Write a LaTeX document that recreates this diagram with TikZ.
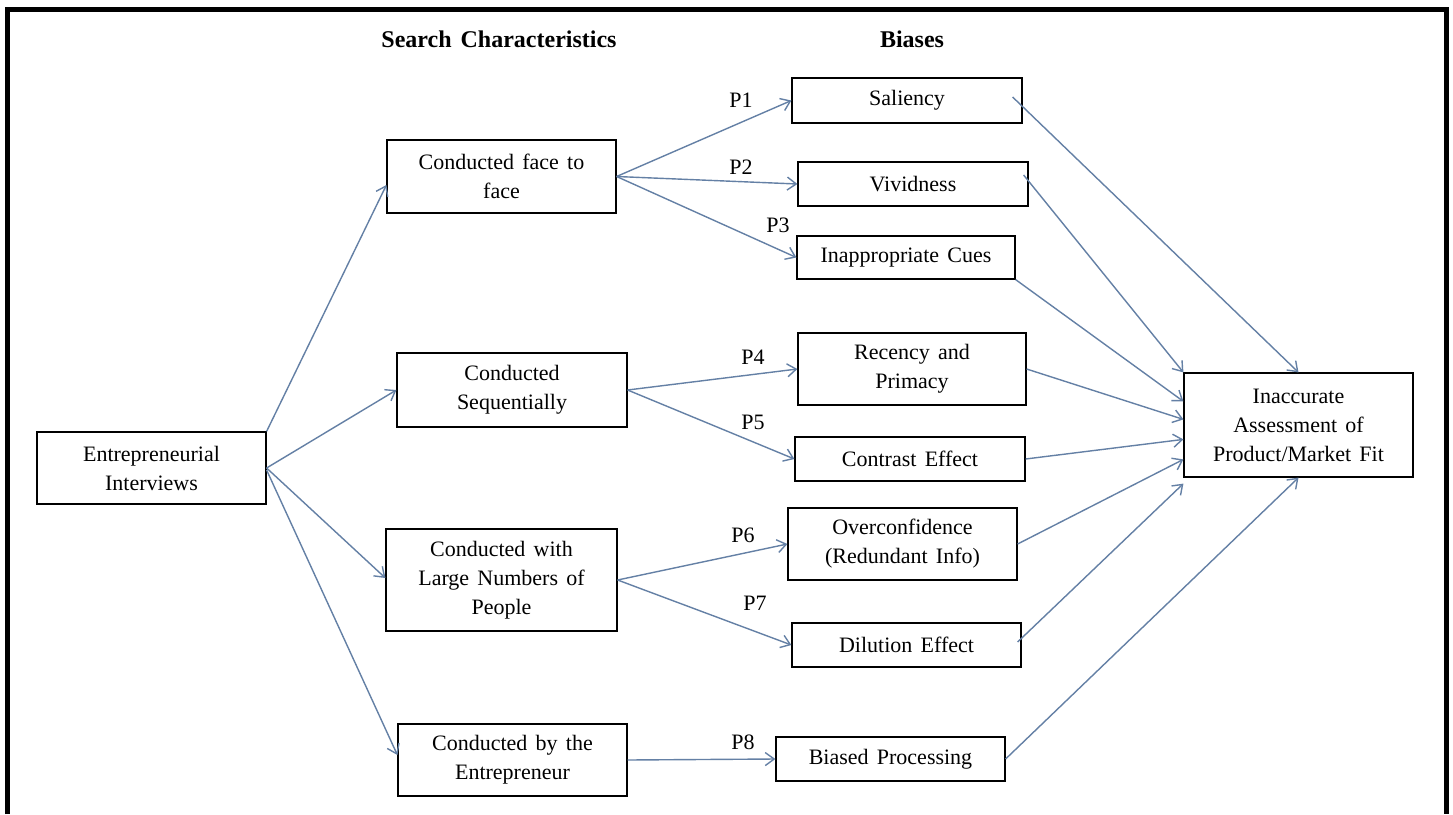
\documentclass[tikz,border=0pt]{standalone}
\usepackage{fontspec}
\setmainfont{Liberation Serif}[WordSpace={1.5}]
\usetikzlibrary{arrows.meta,calc}
\definecolor{arr}{RGB}{100,128,165}
\begin{document}
\begin{tikzpicture}[x=1pt,y=-1pt,
  box/.style={draw=black,line width=1.2pt,align=center,inner sep=0pt,font=\fontsize{22}{29}\selectfont},
  lab/.style={font=\fontsize{22}{26}\selectfont,inner sep=0pt},
  hdr/.style={font=\fontsize{24}{28}\selectfont\bfseries,inner sep=0pt,anchor=base},
  link/.style={draw=arr,line width=1.4pt,-{Straight Barb[length=9pt,width=13pt,line width=1.4pt]}}]
\useasboundingbox (0,0) rectangle (1453,814);
\fill[white] (0,0) rectangle (1453,814);
\draw[line width=5pt] (7.5,814) -- (7.5,9.5) -- (1446.5,9.5) -- (1446.5,814);

\node[hdr] (h1) at (499,47) {Search Characteristics};
\node[hdr] (h2) at (912,47) {Biases};

\node[box,minimum width=229pt,minimum height=72pt] (ei) at (151.5,468) {Entrepreneurial\\Interviews};
\node[box,minimum width=229pt,minimum height=73pt] (f2f) at (501.5,176.5) {Conducted face to\\face};
\node[box,minimum width=230pt,minimum height=74pt] (seq) at (512,390) {Conducted\\Sequentially};
\node[box,minimum width=231pt,minimum height=102pt] (large) at (501.5,580) {Conducted with\\Large Numbers of\\People};
\node[box,minimum width=229pt,minimum height=72pt] (entr) at (512.5,760) {Conducted by the\\Entrepreneur};

\node[box,minimum width=230pt,minimum height=45pt] (sal) at (907,100.5) {Saliency};
\node[box,minimum width=230pt,minimum height=44pt] (viv) at (913,184) {Vividness};
\node[box,minimum width=218pt,minimum height=43pt] (inap) at (906,257.5) {Inappropriate Cues};
\node[box,minimum width=228pt,minimum height=72pt] (rec) at (912,369) {Recency and\\Primacy};
\node[box,minimum width=230pt,minimum height=44pt] (con) at (910,459) {Contrast Effect};
\node[box,minimum width=229pt,minimum height=72pt] (over) at (902.5,544) {Overconfidence\\(Redundant Info)};
\node[box,minimum width=229pt,minimum height=44pt] (dil) at (906.5,645) {Dilution Effect};
\node[box,minimum width=229pt,minimum height=44pt] (bias) at (890.5,759) {Biased Processing};

\node[box,minimum width=229pt,minimum height=104pt] (ia) at (1298.5,425) {Inaccurate\\Assessment of\\Product/Market Fit};

\node[lab] (p1) at (741,100) {P1};
\node[lab] (p2) at (741,167) {P2};
\node[lab] (p3) at (778,225) {P3};
\node[lab] (p4) at (753,357) {P4};
\node[lab] (p5) at (753,422) {P5};
\node[lab] (p6) at (743,535) {P6};
\node[lab] (p7) at (755,603) {P7};
\node[lab] (p8) at (743,742) {P8};

\draw[link] (ei.north east) -- ($(f2f.west)+(0,8.5)$);
\draw[link] (ei.east) -- (seq.west);
\draw[link] (ei.east) -- ($(large.west)+(0,-2)$);
\draw[link] ($(ei.east)+(0,2)$) -- ($(entr.west)+(0,-5)$);

\draw[link] (f2f.east) -- (sal.west);
\draw[link] (f2f.east) -- (viv.west);
\draw[link] (f2f.east) -- (inap.west);
\draw[link] (seq.east) -- (rec.west);
\draw[link] (seq.east) -- (con.west);
\draw[link] (large.east) -- (over.west);
\draw[link] (large.east) -- (dil.west);
\draw[link] (entr.east) -- (bias.west);

\draw[link] ($(sal.east)+(-10,-3.5)$) -- (ia.north);
\draw[link] ($(viv.east)+(-5,-9)$) -- (ia.north west);
\draw[link] (inap.south east) -- ($(ia.north west)+(0,29)$);
\draw[link] (rec.east) -- ($(ia.north west)+(0,47)$);
\draw[link] (con.east) -- ($(ia.north west)+(0,67)$);
\draw[link] (over.east) -- ($(ia.north west)+(0,87)$);
\draw[link] ($(dil.east)+(-4,-3)$) -- ($(ia.south west)+(0,6)$);
\draw[link] (bias.east) -- (ia.south);
\end{tikzpicture}
\end{document}
